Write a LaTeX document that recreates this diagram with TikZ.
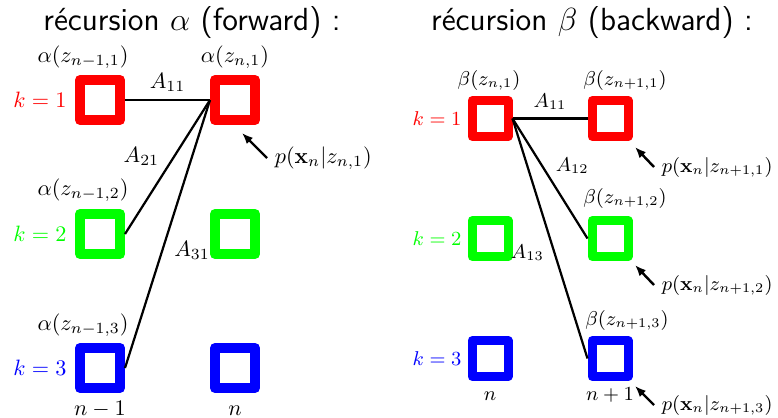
\documentclass[tikz,border=0pt]{standalone}
\usepackage{amsmath, amssymb}
\usepackage{tikz}
\usetikzlibrary{arrows.meta,calc,positioning}

\begin{document}
\begin{tikzpicture}[x=0.45pt, y=-0.45pt,
        fstate/.style={draw=#1, line width=4.5pt, line join=round, minimum size=18pt, inner sep=0pt},
        bstate/.style={draw=#1, line width=4.05pt, line join=round, minimum size=16.2pt, inner sep=0pt},
        trans/.style={line width=1pt},
        obs/.style={-{Latex[length=5pt,width=4pt]}, line width=1.1pt},
        titre/.style={font=\Large\sffamily}]
        \useasboundingbox (0,0) rectangle (778,417);
        %Titles
        \node[titre] (tf) at (192,23) {récursion $\alpha$ (forward) :};
        \node[titre] (tb) at (592,23) {récursion $\beta$ (backward) :};
        %Forward boxes
        \node[fstate=red] (fa1) at (100,100) {};
        \node[fstate=green] (fa2) at (100,234) {};
        \node[fstate=blue] (fa3) at (100,368) {};
        \node[fstate=red] (fb1) at (235,100) {};
        \node[fstate=green] (fb2) at (235,234) {};
        \node[fstate=blue] (fb3) at (235,368) {};
        %Forward labels
        \node (la1) at (83,57) {$\alpha(z_{n-1,1})$};
        \node (la2) at (83,190) {$\alpha(z_{n-1,2})$};
        \node (la3) at (83,325) {$\alpha(z_{n-1,3})$};
        \node (lb1) at (235,57) {$\alpha(z_{n,1})$};
        \node[text=red] (kf1) at (40,100) {$k=1$};
        \node[text=green] (kf2) at (40,234) {$k=2$};
        \node[text=blue] (kf3) at (40,368) {$k=3$};
        \node[anchor=base] (nf1) at (100,415) {$n-1$};
        \node[anchor=base] (nf2) at (235,415) {$n$};
        %Forward transitions
        \draw[trans] (fb1.west) -- node[above] (af11) {$A_{11}$} (fa1.east);
        \draw[trans] (fb1.west) -- node[pos=.42, left=3pt] (af21) {$A_{21}$} (fa2.east);
        \draw[trans] (fb1.west) -- node[pos=.56, right=1.5pt] (af31) {$A_{31}$} (fa3.east);
        %Forward emission
        \node[anchor=west] (pf1) at (267,158) {$p(\mathbf{x}_n|z_{n,1})$};
        \draw[obs] (pf1.west) -- ++(-25,-25);
        %Backward boxes
        \node[bstate=red] (ba1) at (490,118.5) {};
        \node[bstate=green] (ba2) at (490,238.5) {};
        \node[bstate=blue] (ba3) at (490,358.5) {};
        \node[bstate=red] (bb1) at (610,118.5) {};
        \node[bstate=green] (bb2) at (610,238.5) {};
        \node[bstate=blue] (bb3) at (610,358.5) {};
        %Backward labels
        \begin{scope}[every node/.append style={font=\small}]
        \node (ra1) at (489,80) {$\beta(z_{n,1})$};
        \node (rb1) at (625,80) {$\beta(z_{n+1,1})$};
        \node (rb2) at (625,198) {$\beta(z_{n+1,2})$};
        \node (rb3) at (627,320) {$\beta(z_{n+1,3})$};
        \node[text=red] (kb1) at (437,118.5) {$k=1$};
        \node[text=green] (kb2) at (437,238.5) {$k=2$};
        \node[text=blue] (kb3) at (437,358.5) {$k=3$};
        \node[anchor=base] (nb1) at (490,400) {$n$};
        \node[anchor=base] (nb2) at (610,400) {$n+1$};
        %Backward transitions
        \draw[trans] (ba1.east) -- node[above] (ab11) {$A_{11}$} (bb1.west);
        \draw[trans] (ba1.east) -- node[pos=.39, right=2.5pt] (ab12) {$A_{12}$} (bb2.west);
        \draw[trans] (ba1.east) -- node[pos=.56, left=1pt] (ab13) {$A_{13}$} (bb3.west);
        %Backward emissions
        \node[anchor=west] (pb1) at (654,167) {$p(\mathbf{x}_n|z_{n+1,1})$};
        \node[anchor=west] (pb2) at (654,285) {$p(\mathbf{x}_n|z_{n+1,2})$};
        \node[anchor=west] (pb3) at (654,405) {$p(\mathbf{x}_n|z_{n+1,3})$};
        \end{scope}
        \draw[obs] (pb1.west) -- ++(-19,-20);
        \draw[obs] (pb2.west) -- ++(-19,-20);
        \draw[obs] (pb3.west) -- ++(-19,-19);
      \end{tikzpicture}
\end{document}
